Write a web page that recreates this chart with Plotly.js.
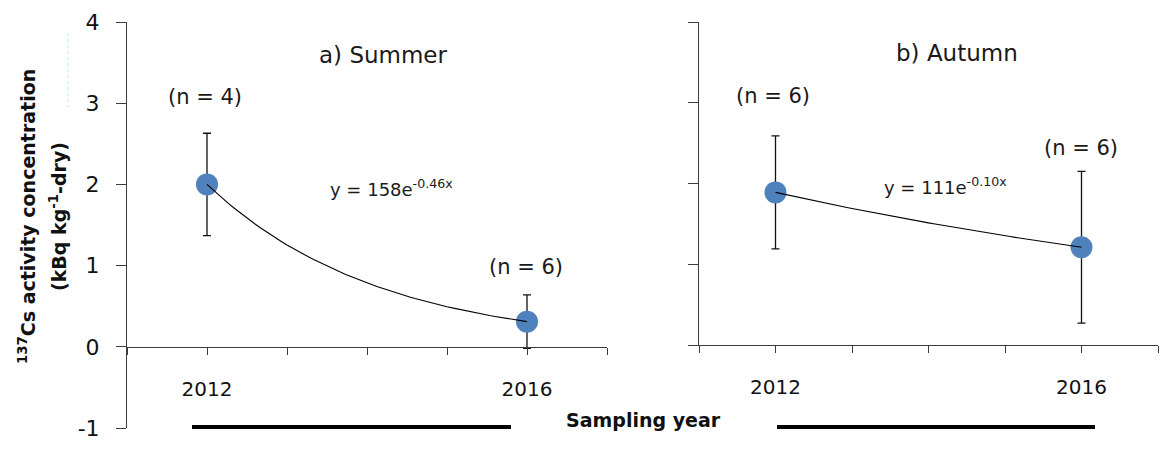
<!DOCTYPE html>
<html>
<head>
<meta charset="utf-8">
<script src="https://cdn.plot.ly/plotly-3.0.1.min.js"></script>
<style>
  html, body { margin: 0; padding: 0; background: #ffffff; }
  #chart { width: 1160px; height: 450px; }
</style>
</head>
<body>
<div id="chart"></div>
<script>
// Sampling years and 137Cs activity concentration (kBq kg-1 dry), mean ± error
const years = [2012, 2016];
const summerMean = [2.0, 0.31];
const summerErr = [0.63, 0.33];
const summerN = [4, 6];
const autumnMean = [1.89, 1.21];
const autumnErr = [0.70, 0.94];
const autumnN = [6, 6];

// Fitted exponential trend labels
const summerFitLabel = 'y = 158e<sup>-0.46x</sup>';
const autumnFitLabel = 'y = 111e<sup>-0.10x</sup>';

// Axis ticks
const xTickVals = [2011, 2012, 2013, 2014, 2015, 2016, 2017];
const xTickText = ['', '2012', '', '', '', '2016', ''];
const yTickValsLeft = [-1, 0, 1, 2, 3, 4];
const yTickTextLeft = ['-1', '0', '1', '2', '3', '4'];
const yTickValsRight = [0, 1, 2, 3, 4];

const W = 1160, H = 450;
const px = v => v / W;          // pixel -> paper x
const py = v => 1 - v / H;      // pixel -> paper y

const FONT = 'DejaVu Sans, Verdana, sans-serif';
const AXIS_COLOR = '#3c3c3c';
const MARKER_COLOR = '#4f81bd';

// Exponential trend curve through the two means
function expTrend(xs, ys) {
  const k = Math.log(ys[1] / ys[0]) / (xs[1] - xs[0]);
  const cx = [], cy = [];
  const steps = 60;
  for (let i = 0; i <= steps; i++) {
    const t = xs[0] + (xs[1] - xs[0]) * i / steps;
    cx.push(t);
    cy.push(ys[0] * Math.exp(k * (t - xs[0])));
  }
  return { x: cx, y: cy };
}

const sFit = expTrend(years, summerMean);
const aFit = expTrend(years, autumnMean);

const errStyle = (arr) => ({
  type: 'data', array: arr, visible: true,
  color: '#111111', thickness: 1.3, width: 4
});

const traces = [
  {
    x: years, y: summerMean, xaxis: 'x', yaxis: 'y',
    type: 'scatter', mode: 'markers',
    marker: { size: 22, color: MARKER_COLOR },
    error_y: errStyle(summerErr),
    hoverinfo: 'x+y', showlegend: false
  },
  {
    x: sFit.x, y: sFit.y, xaxis: 'x', yaxis: 'y',
    type: 'scatter', mode: 'lines',
    line: { color: '#000000', width: 1.1 },
    hoverinfo: 'skip', showlegend: false
  },
  {
    x: years, y: autumnMean, xaxis: 'x2', yaxis: 'y2',
    type: 'scatter', mode: 'markers',
    marker: { size: 22, color: MARKER_COLOR },
    error_y: errStyle(autumnErr),
    hoverinfo: 'x+y', showlegend: false
  },
  {
    x: aFit.x, y: aFit.y, xaxis: 'x2', yaxis: 'y2',
    type: 'scatter', mode: 'lines',
    line: { color: '#000000', width: 1.1 },
    hoverinfo: 'skip', showlegend: false
  }
];

const xAxisBase = {
  range: [2011, 2017],
  tickmode: 'array',
  tickvals: xTickVals,
  ticktext: xTickText,
  ticks: 'outside', ticklen: 7, tickwidth: 1, tickcolor: AXIS_COLOR,
  showline: true, linecolor: AXIS_COLOR, linewidth: 1,
  showgrid: false, zeroline: false,
  tickfont: { family: FONT, size: 20, color: '#111111' },
  ticklabelstandoff: 17,
  fixedrange: true
};

const yAxisBase = {
  tickmode: 'array',
  ticks: 'outside', ticklen: 10, tickwidth: 1, tickcolor: AXIS_COLOR,
  showline: true, linecolor: AXIS_COLOR, linewidth: 1,
  showgrid: false, zeroline: false,
  tickfont: { family: FONT, size: 22, color: '#111111' },
  ticklabelstandoff: 12,
  fixedrange: true
};

const annFont = (size) => ({ family: FONT, size: size, color: '#1a1a1a' });

const annotations = [
  { text: 'a) Summer', x: px(383), y: py(55), font: annFont(23) },
  { text: 'b) Autumn', x: px(957), y: py(53), font: annFont(23) },
  { text: '(n = ' + summerN[0] + ')', x: px(205), y: py(97), font: annFont(21) },
  { text: '(n = ' + summerN[1] + ')', x: px(526), y: py(267), font: annFont(21) },
  { text: '(n = ' + autumnN[0] + ')', x: px(773), y: py(96), font: annFont(21) },
  { text: '(n = ' + autumnN[1] + ')', x: px(1081), y: py(148), font: annFont(21) },
  { text: summerFitLabel, x: px(328), y: py(188), xanchor: 'left', font: annFont(18) },
  { text: autumnFitLabel, x: px(882), y: py(186), xanchor: 'left', font: annFont(18) },
  { text: '<b><sup>137</sup>Cs activity concentration</b>', x: px(27), y: py(217),
    textangle: -90, font: { family: FONT, size: 19, color: '#111111' } },
  { text: '<b>(kBq kg<sup>-1</sup>-dry)</b>', x: px(58), y: py(217),
    textangle: -90, font: { family: FONT, size: 19, color: '#111111' } },
  { text: '<b>Sampling year</b>', x: px(643), y: py(420),
    font: { family: FONT, size: 19, color: '#111111' } }
].map(a => Object.assign({ xref: 'paper', yref: 'paper', showarrow: false,
  xanchor: 'center', yanchor: 'middle' }, a));

const shapes = [
  // thick rules beside the x-axis title
  { type: 'line', xref: 'paper', yref: 'paper', x0: px(192), x1: px(511), y0: py(427), y1: py(427),
    line: { color: '#000000', width: 4 } },
  { type: 'line', xref: 'paper', yref: 'paper', x0: px(777), x1: px(1095), y0: py(427), y1: py(427),
    line: { color: '#000000', width: 4 } },
  // faint dotted guide near the axis title
  { type: 'line', xref: 'paper', yref: 'paper', x0: px(68), x1: px(68), y0: py(33), y1: py(107),
    line: { color: '#c8f2f6', width: 1.5, dash: 'dot' } }
];

const layout = {
  width: W, height: H,
  margin: { l: 0, r: 0, t: 0, b: 0 },
  paper_bgcolor: '#ffffff', plot_bgcolor: 'rgba(0,0,0,0)',
  showlegend: false,
  xaxis: Object.assign({}, xAxisBase, {
    domain: [px(127), px(607)], anchor: 'free', position: py(347)
  }),
  yaxis: Object.assign({}, yAxisBase, {
    domain: [py(428), py(22)], range: [-1, 4],
    tickvals: yTickValsLeft, ticktext: yTickTextLeft, anchor: 'x'
  }),
  xaxis2: Object.assign({}, xAxisBase, {
    domain: [px(699), px(1158)], anchor: 'y2'
  }),
  yaxis2: Object.assign({}, yAxisBase, {
    domain: [py(345), py(22)], range: [0, 4],
    tickvals: yTickValsRight, showticklabels: false, anchor: 'x2'
  }),
  annotations: annotations,
  shapes: shapes
};

Plotly.newPlot('chart', traces, layout, { displayModeBar: false, staticPlot: true });
</script>
</body>
</html>
